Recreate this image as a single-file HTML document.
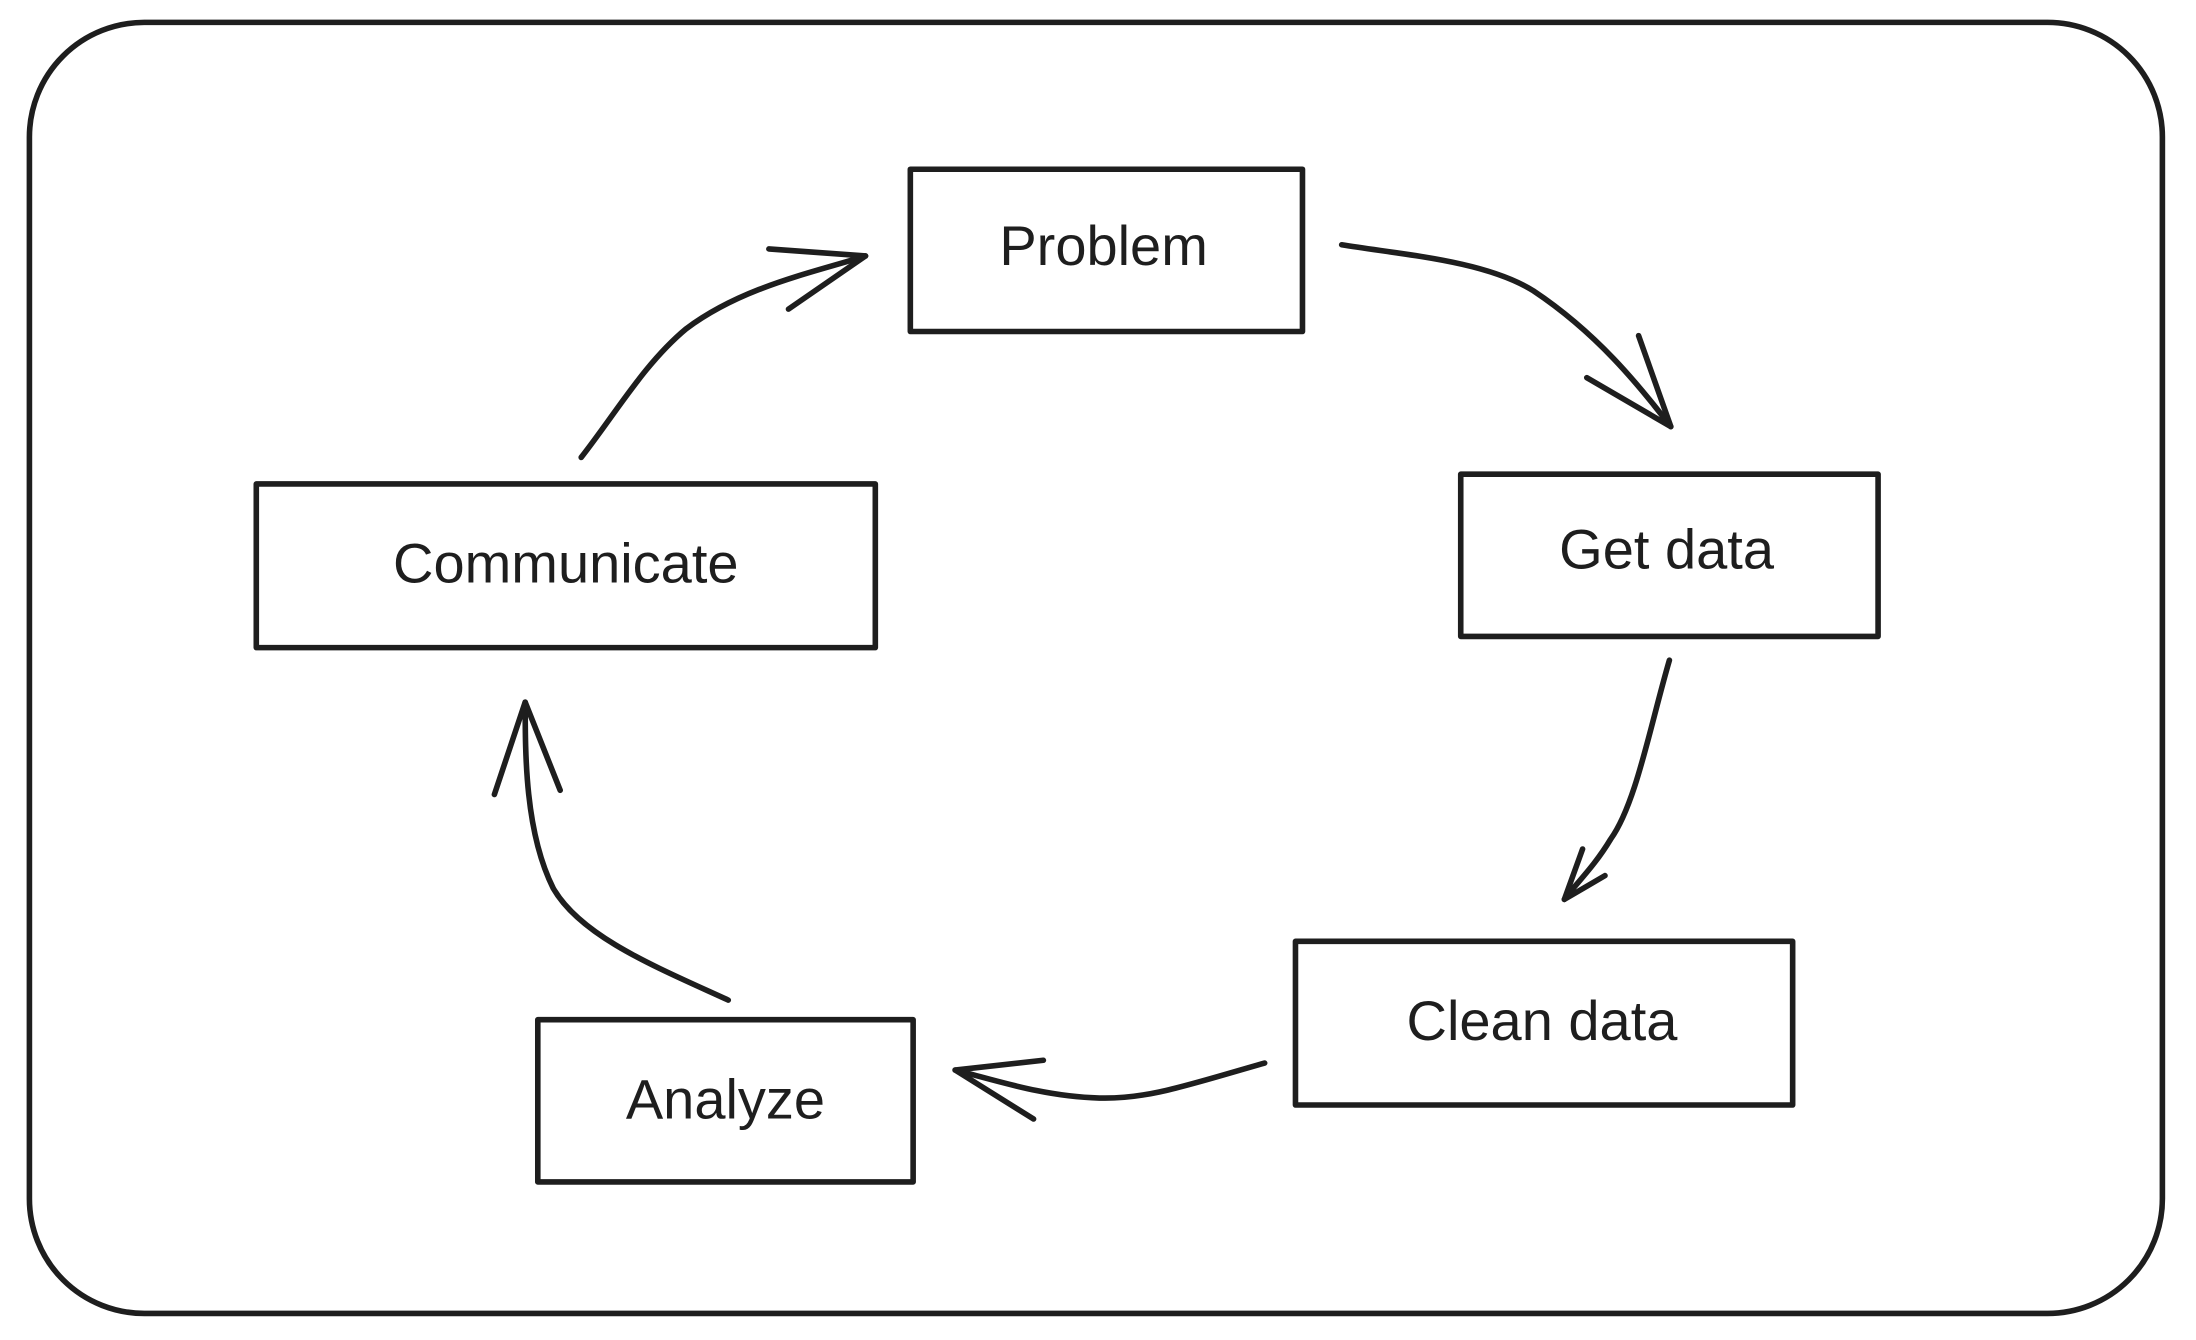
<!DOCTYPE html>
<html><head><meta charset="utf-8"><style>
html,body{margin:0;padding:0;background:#fff;}
svg{display:block}
text{font-family:"Liberation Sans",sans-serif;font-size:40px;fill:#1e1e1e;text-anchor:middle;dominant-baseline:middle}
</style></head><body>
<svg width="2196" height="1340" viewBox="0 0 1568 958" preserveAspectRatio="none" xmlns="http://www.w3.org/2000/svg">
<g fill="none" stroke="#1e1e1e" stroke-width="4" stroke-linecap="round" stroke-linejoin="round">
<rect x="21" y="16" width="1523" height="923" rx="82" ry="82"/>
<rect x="650" y="121" width="280" height="116"/>
<rect x="1043" y="339" width="298" height="116"/>
<rect x="925" y="673" width="355" height="117"/>
<rect x="384" y="729" width="268" height="116"/>
<rect x="183" y="346" width="442" height="117"/>
<path d="M415 327 C440 295 460 260 490 235 C530 205 580 195 618 183"/>
<path d="M618 183 L549 178 M618 183 L563 221"/>
<path d="M958 175 C1000 182 1060 186 1095 208 C1140 238 1170 275 1193 305"/>
<path d="M1193 305 L1133 270 M1193 305 L1170 240"/>
<path d="M1192 472 C1178 520 1168 575 1150 600 C1138 620 1125 632 1117 643"/>
<path d="M1117 643 L1130 607 M1117 643 L1146 626"/>
<path d="M903 760 C850 775 820 786 785 785 C745 784 710 772 682 765"/>
<path d="M682 765 L745 758 M682 765 L738 800"/>
<path d="M520 715 C470 692 415 670 395 635 C375 595 375 540 375 502"/>
<path d="M375 502 L353 568 M375 502 L400 565"/>
</g>
<text x="788" y="179">Problem</text>
<text x="1190" y="396">Get data</text>
<text x="1101" y="733">Clean data</text>
<text x="518" y="789">Analyze</text>
<text x="404" y="406">Communicate</text>
</svg>
</body></html>
